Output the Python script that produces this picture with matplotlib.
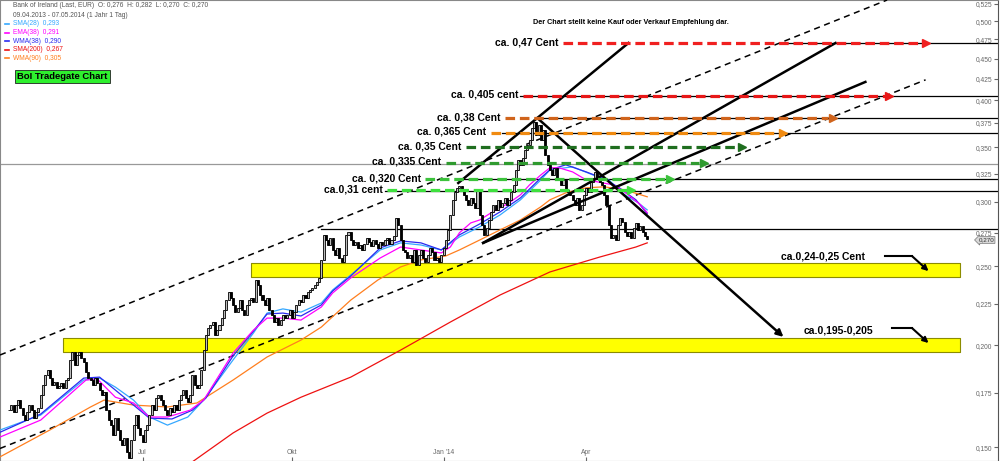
import numpy as np
import pandas as pd
import matplotlib
matplotlib.use('Agg')
import matplotlib.pyplot as plt
from matplotlib.ticker import FixedLocator, FixedFormatter, NullLocator, NullFormatter
from matplotlib.transforms import blended_transform_factory

plt.rcParams['font.family'] = ['Liberation Sans', 'DejaVu Sans']

# Bank of Ireland, Tradegate, daily closes 09.04.2013 - 07.05.2014 (EUR)
close = [
    0.1665, 0.1689, 0.1656, 0.1689, 0.1713,
    0.1675, 0.1642, 0.1619, 0.1656, 0.1689, 0.1665, 0.1628, 0.1656, 0.1675,
    0.1737, 0.1787, 0.1839, 0.1865, 0.1823,
    0.1787, 0.1803, 0.1772, 0.1782, 0.1798, 0.1772, 0.1813, 0.1823,
    0.1919, 0.1962, 0.1892, 0.1946, 0.1962, 0.1930, 0.1908, 0.1855, 0.1823,
    0.1813, 0.1787, 0.1823, 0.1798, 0.1762, 0.1737, 0.1752, 0.1665, 0.1619,
    0.1596, 0.1552, 0.1628, 0.1574, 0.1530, 0.1508, 0.1539, 0.1479, 0.1454,
    0.1530, 0.1596, 0.1642, 0.1583, 0.1552, 0.1521, 0.1574, 0.1596,
    0.1642, 0.1689, 0.1665, 0.1723, 0.1737, 0.1713, 0.1689,
    0.1665, 0.1642, 0.1675, 0.1656, 0.1689, 0.1665,
    0.1713, 0.1737, 0.1762, 0.1723, 0.1703, 0.1737, 0.1839, 0.1787, 0.1772, 0.1787,
    0.1865, 0.1973, 0.2059, 0.2100, 0.2118, 0.2136, 0.2059,
    0.2088, 0.2118, 0.2160, 0.2210, 0.2273, 0.2326, 0.2286,
    0.2242, 0.2197, 0.2223, 0.2273, 0.2210, 0.2179, 0.2242, 0.2273, 0.2286, 0.2260,
    0.2406, 0.2372, 0.2306, 0.2273, 0.2242, 0.2286, 0.2210,
    0.2179, 0.2136, 0.2160, 0.2118, 0.2148, 0.2179, 0.2160,
    0.2179, 0.2210, 0.2160, 0.2197, 0.2242, 0.2273, 0.2260, 0.2306,
    0.2286, 0.2326, 0.2339, 0.2352, 0.2372, 0.2392, 0.2420, 0.2546, 0.2733,
    0.2694, 0.2656, 0.2709, 0.2619, 0.2582, 0.2634, 0.2560, 0.2532, 0.2582,
    0.2733, 0.2756, 0.2694, 0.2656,
    0.2679, 0.2634, 0.2656, 0.2619, 0.2664, 0.2709, 0.2679, 0.2649, 0.2694,
    0.2664, 0.2634, 0.2679, 0.2656, 0.2694, 0.2709, 0.2664, 0.2694, 0.2725,
    0.2867, 0.2812, 0.2694, 0.2619,
    0.2604, 0.2560, 0.2582, 0.2532, 0.2619, 0.2511,
    0.2582, 0.2619, 0.2560, 0.2532, 0.2582, 0.2634, 0.2604, 0.2546, 0.2560,
    0.2532, 0.2582, 0.2634, 0.2694, 0.2772,
    0.2892, 0.3018, 0.3086, 0.3122, 0.3140, 0.3104,
    0.3061, 0.3018, 0.2976, 0.3035, 0.2993, 0.2950, 0.3104, 0.2892,
    0.2812, 0.2733, 0.2788, 0.2851, 0.2917, 0.2976, 0.2933, 0.3018, 0.2959,
    0.2993, 0.3035, 0.2976, 0.3018, 0.3086, 0.3148,
    0.3285, 0.3380, 0.3332, 0.3399, 0.3477, 0.3527, 0.3577,
    0.3700, 0.3763, 0.3628, 0.3731, 0.3577, 0.3679, 0.3428, 0.3332,
    0.3285, 0.3238, 0.3304, 0.3193, 0.3211, 0.3148, 0.3193, 0.3104, 0.3086,
    0.3061, 0.3018, 0.2976, 0.3035, 0.2933, 0.2976,
    0.3061, 0.3122, 0.3086, 0.3175, 0.3211, 0.3266, 0.3211, 0.3175, 0.3148,
    0.3061, 0.2976, 0.2812, 0.2709, 0.2733, 0.2694,
    0.2812, 0.2867, 0.2835, 0.2756, 0.2725, 0.2756, 0.2709,
    0.2788, 0.2827, 0.2772, 0.2804, 0.2756, 0.2725, 0.2700,
]
dates = pd.bdate_range('2013-04-09', periods=len(close))

# indicator lines, read at selected trading days
sma28_day = [-4, 14, 33, 40, 47, 55, 62, 70, 79, 86, 99, 108, 114, 121, 129, 138, 143, 151,
             164, 173, 182, 191, 199, 208, 217, 226, 235, 239, 249, 258, 265, 272, 278, 282]
sma28 = [0.1574, 0.1642, 0.1813, 0.1823, 0.1777, 0.1713, 0.1633, 0.1596, 0.1633, 0.1713,
         0.1919, 0.2071, 0.2191, 0.2217, 0.2197, 0.2254, 0.2339, 0.2440, 0.2619, 0.2672,
         0.2656, 0.2619, 0.2717, 0.2796, 0.2892, 0.3018, 0.3193, 0.3285, 0.3313, 0.3238,
         0.3193, 0.3061, 0.2993, 0.2933]

ema38_day = [-4, 14, 34, 39, 47, 55, 62, 70, 80, 86, 99, 108, 114, 121, 129, 138, 143, 151,
             164, 173, 182, 191, 195, 199, 204, 208, 213, 217, 221, 226, 230, 235, 239, 243,
             249, 255, 260, 267, 272, 279, 282]
ema38 = [0.1543, 0.1619, 0.1813, 0.1818, 0.1727, 0.1699, 0.1633, 0.1633, 0.1665, 0.1713,
         0.1957, 0.2088, 0.2160, 0.2160, 0.2148, 0.2229, 0.2319, 0.2420, 0.2560, 0.2641,
         0.2619, 0.2597, 0.2641, 0.2749, 0.2827, 0.2851, 0.2909, 0.2950, 0.2993, 0.3061,
         0.3148, 0.3238, 0.3304, 0.3304, 0.3266, 0.3193, 0.3175, 0.3148, 0.3086, 0.2976,
         0.2910]

wma38_day = [-4, 14, 33, 40, 47, 55, 62, 72, 81, 87, 99, 108, 114, 121, 129, 138, 143, 151,
             164, 173, 182, 191, 199, 208, 217, 226, 235, 239, 246, 255, 262, 269, 277, 282]
wma38 = [0.1564, 0.1647, 0.1823, 0.1828, 0.1762, 0.1689, 0.1628, 0.1624, 0.1665, 0.1723,
         0.1941, 0.2082, 0.2185, 0.2191, 0.2173, 0.2242, 0.2332, 0.2433, 0.2634, 0.2687,
         0.2672, 0.2619, 0.2733, 0.2819, 0.2917, 0.3035, 0.3211, 0.3285, 0.3332, 0.3266,
         0.3211, 0.3131, 0.3018, 0.2901]

wma90_day = [-4, 18, 36, 42, 55, 70, 83, 99, 114, 129, 138, 151, 163, 173, 182, 193, 199,
             208, 217, 226, 235, 239, 246, 255, 263, 272, 282]
wma90 = [0.1459, 0.1574, 0.1680, 0.1713, 0.1689, 0.1680, 0.1699, 0.1813, 0.1935, 0.2030,
         0.2106, 0.2273, 0.2406, 0.2496, 0.2546, 0.2575, 0.2619, 0.2694, 0.2772, 0.2851,
         0.2959, 0.3018, 0.3078, 0.3122, 0.3131, 0.3104, 0.3044]

sma200_day = [80, 99, 114, 129, 151, 173, 195, 217, 239, 261, 277, 282]
sma200 = [0.1432, 0.1561, 0.1651, 0.1727, 0.1828, 0.1973, 0.2136, 0.2306, 0.2461, 0.2567,
          0.2641, 0.2672]

# drawn price targets
target_levels = [0.47, 0.405, 0.38, 0.365, 0.35, 0.335, 0.32, 0.31]
target_labels = ['ca. 0,47 Cent', 'ca. 0,405 cent', 'ca. 0,38 Cent', 'ca. 0,365 Cent',
                 'ca. 0,35 Cent', 'ca. 0,335 Cent', 'ca. 0,320 Cent', 'ca.0,31 cent']
target_colors = ['#f02020', '#e81818', '#d0641c', '#f08a10', '#1f6e1f', '#2f9a2f', '#3cc23c', '#3ee03e']
target_start = [245, 227, 219, 213, 202, 193, 184, 167]
target_end = [405, 389, 364, 342, 324, 307, 292, 275]

# horizontal support / resistance lines
hline_levels = [0.47, 0.405, 0.38, 0.365, 0.334, 0.32, 0.309, 0.2775]
hline_start = [341, 226, 235, 218, -4, 198, 166, 138]

# support zones
zone_low = [0.2426, 0.1962]
zone_high = [0.2523, 0.2041]
zone_start = [107, 24]
zone_end = [420, 420]

ytick_vals = [0.150, 0.175, 0.200, 0.225, 0.250, 0.275, 0.300, 0.325, 0.350, 0.375,
              0.400, 0.425, 0.450, 0.475, 0.500, 0.525]
ytick_text = ['0,%03d' % round(v * 1000) for v in ytick_vals]
xtick_dates = ['2013-07-01', '2013-10-01', '2014-01-02', '2014-04-01']
xtick_text = ['Jul', 'Okt', "Jan '14", 'Apr']

fig = plt.figure(figsize=(10, 4.61), dpi=100)
ax = fig.add_axes([0, 0, 0.998, 1])
ax.set_yscale('log')
ax.set_xlim(-4, 437)
ax.set_ylim(0.1442, 0.531)

# yellow zones
for lo_, hi_, x0, x1 in zip(zone_low, zone_high, zone_start, zone_end):
    ax.fill_between([x0, x1], lo_, hi_, facecolor='#ffff00', edgecolor='#8c8c00', lw=0.8, zorder=1)

# horizontal lines
for lev, x0 in zip(hline_levels, hline_start):
    col = '#999999' if x0 < 0 else 'black'
    ax.plot([x0, 437], [lev, lev], color=col, lw=0.9, zorder=2)

# channel (dashed)
ax.plot([-4, 388], [0.1946, 0.531], color='black', lw=1.1, dashes=(4, 3), zorder=3)
ax.plot([-4, 405], [0.1494, 0.4237], color='black', lw=1.1, dashes=(4, 3), zorder=3)

# indicators
ax.plot(sma200_day, sma200, color='#ee1111', lw=0.9, zorder=4)
ax.plot(wma90_day, wma90, color='#ff7f1e', lw=0.9, zorder=4)
ax.plot(sma28_day, sma28, color='#35a8ff', lw=0.9, zorder=4)
ax.plot(wma38_day, wma38, color='#2a2af0', lw=0.9, zorder=4)
ax.plot(ema38_day, ema38, color='#ff00ff', lw=0.9, zorder=4)

# candles
c = np.array(close)
o = np.r_[c[0], c[:-1]]
xd = np.arange(len(c))
lo = np.minimum(o, c)
hi = np.maximum(o, c)
up = c >= o
ax.vlines(xd, lo, hi, color='black', lw=0.8, zorder=5)
ax.bar(xd[up], hi[up] - lo[up], bottom=lo[up], width=0.9, color='#bbbbbb',
       edgecolor='black', lw=0.6, zorder=6)
ax.bar(xd[~up], hi[~up] - lo[~up], bottom=lo[~up], width=0.9, color='black',
       edgecolor='black', lw=0.6, zorder=6)

# trend lines
ax.plot([198.5, 273.7], [0.3165, 0.4702], color='black', lw=1.8, zorder=7)
ax.plot([209.5, 365.2], [0.2672, 0.4702], color='black', lw=1.8, zorder=7)
ax.plot([209.5, 378.4], [0.2672, 0.4212], color='black', lw=1.8, zorder=7)
ax.annotate('', xy=(342.2, 0.2048), xytext=(233.4, 0.3804),
            arrowprops=dict(arrowstyle='-|>', lw=1.8, color='black', mutation_scale=10,
                            shrinkA=0, shrinkB=0), zorder=7)

# target arrows and labels
for lev, lab, col, x0, x1 in zip(target_levels, target_labels, target_colors, target_start, target_end):
    ax.plot([x0, x1 - 2], [lev, lev], color=col, lw=2.3, dashes=(3, 1.5), zorder=8)
    ax.plot(x1, lev, marker='>', ms=6, color=col, mec=col, zorder=8)
    ax.text(x0 - 2, lev * 1.003, lab, ha='right', va='center', fontsize=7.5,
            fontweight='bold', color='black', zorder=9)

# zone labels with bent arrows
ax.text(341, 0.2570, 'ca.0,24-0,25 Cent', ha='left', va='center', fontsize=7.5, fontweight='bold')
ax.plot([387, 399], [0.2574, 0.2574], color='black', lw=1.5)
ax.annotate('', xy=(406.3, 0.2467), xytext=(399, 0.2574),
            arrowprops=dict(arrowstyle='-|>', lw=1.5, color='black', mutation_scale=8,
                            shrinkA=0, shrinkB=0))
ax.text(351, 0.2087, 'ca.0,195-0,205', ha='left', va='center', fontsize=7.5, fontweight='bold')
ax.plot([390, 399], [0.2100, 0.2100], color='black', lw=1.5)
ax.annotate('', xy=(406.3, 0.2013), xytext=(399, 0.2100),
            arrowprops=dict(arrowstyle='-|>', lw=1.5, color='black', mutation_scale=8,
                            shrinkA=0, shrinkB=0))

ax.text(0.534, 0.952, 'Der Chart stellt keine Kauf oder Verkauf Empfehlung dar.',
        transform=ax.transAxes, fontsize=5.2, fontweight='bold', va='center')

# header / legend
ax.text(0.013, 0.987, 'Bank of Ireland (Last, EUR)  O: 0,276  H: 0,282  L: 0,270  C: 0,270',
        transform=ax.transAxes, fontsize=4.8, color='#555555', va='center')
ax.text(0.013, 0.967, '09.04.2013 - 07.05.2014 (1 Jahr 1 Tag)',
        transform=ax.transAxes, fontsize=4.8, color='#555555', va='center')
legend_rows = [('SMA(28)  0,293', '#35a8ff'), ('EMA(38)  0,291', '#ff00ff'),
               ('WMA(38)  0,290', '#2a2af0'), ('SMA(200)  0,267', '#ee1111'),
               ('WMA(90)  0,305', '#ff7f1e')]
for k, (txt, col) in enumerate(legend_rows):
    yy = 0.948 - k * 0.0185
    ax.plot([0.005, 0.009], [yy, yy], color=col, lw=1.2, transform=ax.transAxes)
    ax.text(0.013, yy, txt, transform=ax.transAxes, fontsize=4.8, color=col, va='center')

ax.text(0.017, 0.834, 'BoI Tradegate Chart', transform=ax.transAxes, fontsize=6.8,
        fontweight='bold', color='black', va='center',
        bbox=dict(boxstyle='square,pad=0.25', fc='#2ef02e', ec='#222222', lw=0.6))

# last price tag
tr = blended_transform_factory(ax.transAxes, ax.transData)
ax.text(0.996, 0.2694, '0,270', transform=tr, ha='right', va='center', fontsize=4.5,
        color='#333333', bbox=dict(boxstyle='larrow,pad=0.15', fc='#d8d8d8', ec='#777777', lw=0.5))

# axes
ax.yaxis.tick_right()
ax.yaxis.set_major_locator(FixedLocator(ytick_vals))
ax.yaxis.set_major_formatter(FixedFormatter(ytick_text))
ax.yaxis.set_minor_locator(NullLocator())
ax.yaxis.set_minor_formatter(NullFormatter())
ax.tick_params(axis='y', direction='in', length=3, pad=-4, labelsize=4.8,
               labelcolor='#666666', color='#666666')
for lab in ax.get_yticklabels():
    lab.set_horizontalalignment('right')

xpos = [dates.searchsorted(pd.Timestamp(d)) for d in xtick_dates]
ax.set_xticks(xpos)
ax.set_xticklabels(xtick_text)
ax.tick_params(axis='x', direction='in', length=3, pad=-9, labelsize=4.8,
               labelcolor='#666666', color='#666666')

for s in ['left', 'top', 'bottom']:
    ax.spines[s].set_color('#888888')
    ax.spines[s].set_linewidth(0.8)
ax.spines['right'].set_color('#555555')

fig.savefig('out.png', dpi=100)
